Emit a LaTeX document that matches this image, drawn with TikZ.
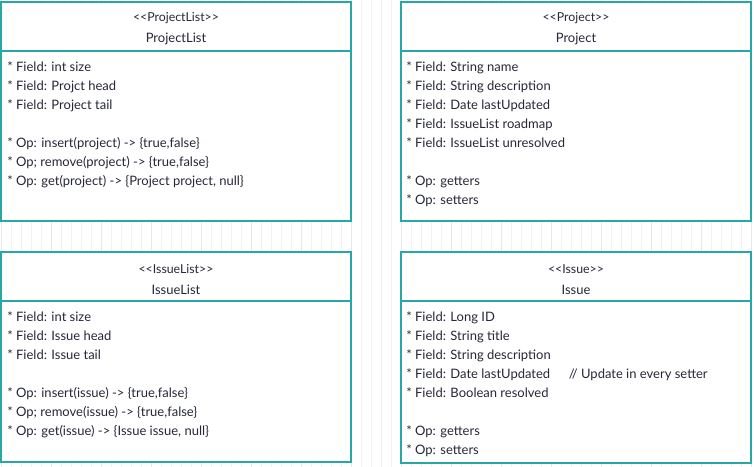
\documentclass[tikz,border=0pt]{standalone}
\usepackage{fontspec}
\setmainfont{Lato}
\usepackage{xcolor}
\usepackage{tikz}
\usetikzlibrary{positioning}

\definecolor{umlteal}{RGB}{39,168,166}
\definecolor{umlink}{RGB}{38,40,56}
\newcommand{\stereo}[1]{{\fontsize{9.25}{15.75}\selectfont\rule{0pt}{10.75pt}<{}<#1>{}>}}

\begin{document}
\begin{tikzpicture}[x=0.75pt,y=-0.75pt,
    minorgrid/.style={draw=black!5,line width=0.6pt,step=10},
    majorgrid/.style={draw=black!9,line width=0.75pt,step=50},
    class head/.style={rectangle,draw=umlteal,line width=1.5pt,fill=white,outer sep=0pt,
      minimum width=262.5pt,minimum height=36.75pt,align=center,text=umlink,
      font=\fontsize{9.75}{15.75}\selectfont},
    class body/.style={rectangle,draw=umlteal,line width=1.5pt,fill=white,outer sep=0pt,
      minimum width=262.5pt},
    members/.style={inner sep=0pt,align=left,text=umlink,anchor=north west,
      font=\fontsize{9.75}{14.25}\selectfont}]

  \useasboundingbox[fill=white] (0,0) rectangle (754,467);
  % background grid
  \draw[minorgrid,shift={(1,2)}] (-1,-2) grid (753,465);
  \draw[majorgrid,shift={(1,2)}] (-1,-2) grid (753,465);

  % class headers
  \node[class head] (plisthead) at (176,26.5) {\stereo{ProjectList}\\ProjectList};
  \node[class head] (projhead) at (576,26.5) {\stereo{Project}\\Project};
  \node[class head] (ilisthead) at (176,276.5) {\stereo{IssueList}\\IssueList};
  \node[class head] (issuehead) at (576,276.5) {\stereo{Issue}\\Issue};

  % class bodies
  \node[class body,minimum height=127.5pt] (plistbody) [below=0pt of plisthead] {};
  \node[class body,minimum height=127.5pt] (projbody) [below=0pt of projhead] {};
  \node[class body,minimum height=120.75pt] (ilistbody) [below=0pt of ilisthead] {};
  \node[class body,minimum height=121.5pt] (issuebody) [below=0pt of issuehead] {};

  % members
  \node[members] (plisttext) [below right=7.75pt and 4.5pt of plistbody.north west]
    {* Field: int size\\
     * Field: Projct head\\
     * Field: Project tail\\[14.25pt]
     * Op: insert(project) -> \{true,false\}\\
     * Op; remove(project) -> \{true,false\}\\
     * Op: get(project) -> \{Project project, null\}};
  \node[members] (projtext) [below right=7.75pt and 3.75pt of projbody.north west]
    {* Field: String name\\
     * Field: String description\\
     * Field: Date lastUpdated\\
     * Field: IssueList roadmap\\
     * Field: IssueList unresolved\\[14.25pt]
     * Op: getters\\
     * Op: setters};
  \node[members] (ilisttext) [below right=7.75pt and 4.5pt of ilistbody.north west]
    {* Field: int size\\
     * Field: Issue head\\
     * Field: Issue tail\\[14.25pt]
     * Op: insert(issue) -> \{true,false\}\\
     * Op; remove(issue) -> \{true,false\}\\
     * Op: get(issue) -> \{Issue issue, null\}};
  \node[members] (issuetext) [below right=7.75pt and 3.75pt of issuebody.north west]
    {* Field: Long ID\\
     * Field: String title\\
     * Field: String description\\
     * Field: Date lastUpdated\hspace{14pt}// Update in every setter\\
     * Field: Boolean resolved\\[14.25pt]
     * Op: getters\\
     * Op: setters};

\end{tikzpicture}
\end{document}
